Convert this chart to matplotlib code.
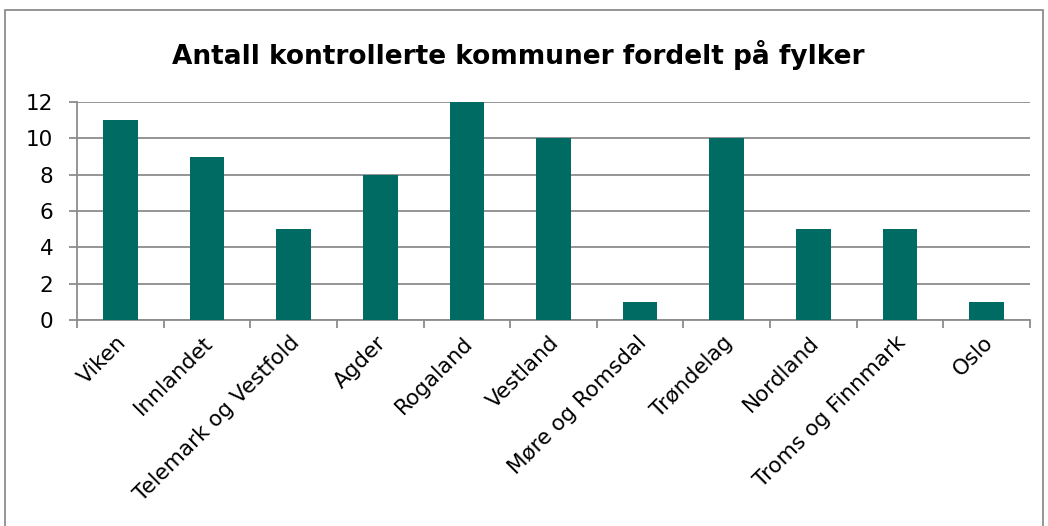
import matplotlib.pyplot as plt
import numpy as np

# Data
fylker = ['Viken', 'Innlandet', 'Telemark og Vestfold', 'Agder', 'Rogaland', 'Vestland',
          'Møre og Romsdal', 'Trøndelag', 'Nordland', 'Troms og Finnmark', 'Oslo']
antall = [11, 9, 5, 8, 12, 10, 1, 10, 5, 5, 1]

plt.rcParams['font.family'] = ['DejaVu Sans']

fig = plt.figure(figsize=(10.48, 5.26), dpi=100)
ax = fig.add_axes([77/1048, 1 - 320/526, (1030-77)/1048, (320-102)/526])

x = np.arange(len(fylker))
ax.bar(x, antall, width=0.4, color='#006B63', zorder=3)

ax.set_xlim(-0.5, len(fylker) - 0.5)
ax.set_ylim(0, 12)
ax.set_yticks(range(0, 13, 2))
ax.grid(axis='y', color='#8c8c8c', lw=1.3, zorder=0)

# tick marks between categories, labels at bar centres
ax.set_xticks(np.arange(-0.5, len(fylker)), minor=False)
ax.set_xticklabels([])
ax.set_xticks(x - 0.05, minor=True)
ax.set_xticklabels(fylker, minor=True, rotation=45, ha='right', va='top',
                   rotation_mode='anchor', fontsize=15.5)
ax.tick_params(axis='x', which='minor', length=0, pad=9)
ax.tick_params(axis='x', which='major', length=6, width=1.3, color='#8c8c8c')
ax.tick_params(axis='y', length=6, width=1.3, color='#8c8c8c', labelsize=15.5, pad=11)

for s in ['top', 'right']:
    ax.spines[s].set_visible(False)
for s in ['left', 'bottom']:
    ax.spines[s].set_color('#8c8c8c')
    ax.spines[s].set_linewidth(1.3)

fig.text(518/1048, 1 - 55/526, 'Antall kontrollerte kommuner fordelt på fylker',
         ha='center', va='center', fontsize=19, fontweight='bold')

# chart border
fig.patches.append(plt.Rectangle((5/1048, -0.05), 1038/1048, 1 - 10/526 + 0.05,
                                 transform=fig.transFigure, fill=False,
                                 edgecolor='#8c8c8c', lw=1.3))

fig.savefig('out.png', dpi=100)
